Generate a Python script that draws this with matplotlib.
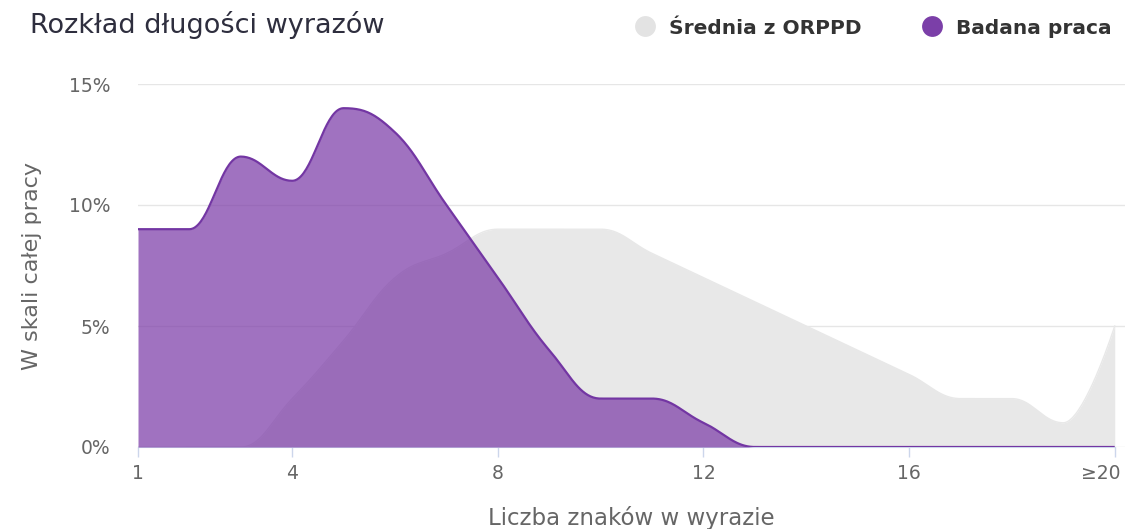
import numpy as np
import matplotlib
matplotlib.use('Agg')
import matplotlib.pyplot as plt
import matplotlib.transforms as mtransforms
from matplotlib.lines import Line2D

# Word length distribution (share of words in %, lengths 1..20, last one is ">=20")
lengths = list(range(1, 21))
orppd_avg = [0, 0, 0, 2, 4.4, 7, 8, 9, 9, 9, 8, 7, 6, 5, 4, 3, 2, 2, 1, 5]
this_work = [9, 9, 12, 11, 14, 13, 10, 7, 4, 2, 2, 1, 0, 0, 0, 0, 0, 0, 0, 0]

tick_pos = [1, 4, 8, 12, 16, 20]
tick_labels = ['1', '4', '8', '12', '16', '≥20']
y_ticks = [0, 5, 10, 15]
y_labels = ['0%', '5%', '10%', '15%']

series_names = ['Średnia z ORPPD', 'Badana praca']


def spline(xs, ys, n=40):
    # Highcharts-like areaspline curve (cubic bezier, smoothing 1.5)
    xs = np.asarray(xs, float)
    ys = np.asarray(ys, float)
    k = len(xs)
    lc = [(xs[i], ys[i]) for i in range(k)]
    rc = [(xs[i], ys[i]) for i in range(k)]
    sm = 1.5
    d = sm + 1
    for i in range(1, k - 1):
        px, py = xs[i], ys[i]
        lx, ly = xs[i - 1], ys[i - 1]
        nx, ny = xs[i + 1], ys[i + 1]
        lcx = (sm * px + lx) / d
        lcy = (sm * py + ly) / d
        rcx = (sm * px + nx) / d
        rcy = (sm * py + ny) / d
        corr = (rcy - lcy) * (rcx - px) / (rcx - lcx) + py - rcy
        lcy += corr
        rcy += corr
        if lcy > ly and lcy > py:
            lcy = max(ly, py)
            rcy = 2 * py - lcy
        elif lcy < ly and lcy < py:
            lcy = min(ly, py)
            rcy = 2 * py - lcy
        if rcy > ny and rcy > py:
            rcy = max(ny, py)
            lcy = 2 * py - rcy
        elif rcy < ny and rcy < py:
            rcy = min(ny, py)
            lcy = 2 * py - rcy
        lc[i] = (lcx, lcy)
        rc[i] = (rcx, rcy)
    t = np.linspace(0, 1, n)[:, None]
    out = []
    for i in range(k - 1):
        p0 = np.array([xs[i], ys[i]])
        p1 = np.array(rc[i])
        p2 = np.array(lc[i + 1])
        p3 = np.array([xs[i + 1], ys[i + 1]])
        seg = ((1 - t) ** 3) * p0 + 3 * ((1 - t) ** 2) * t * p1 + 3 * (1 - t) * t ** 2 * p2 + t ** 3 * p3
        out.append(seg if i == 0 else seg[1:])
    out = np.vstack(out)
    return out[:, 0], out[:, 1]


fig = plt.figure(figsize=(11.27, 5.29), dpi=100)
ax = fig.add_axes([138 / 1127, 82 / 529, 987 / 1127, 363 / 529])

grey = '#e8e8e8'
purple_line = '#7336a3'
purple_fill = (124 / 255, 60 / 255, 168 / 255, 0.72)

gx, gy = spline(lengths, orppd_avg)
ax.fill_between(gx, 0, gy, color=grey, lw=0, zorder=2)
ax.plot(gx, gy, color=grey, lw=1, zorder=2)

px, py = spline(lengths, this_work)
ax.fill_between(px, 0, py, color=purple_fill, lw=0, zorder=3)
ax.plot(px, py, color=purple_line, lw=1.6, zorder=4, solid_capstyle='butt')

ax.set_xlim(1, 20.2)
ax.set_ylim(0, 15)

ax.set_yticks(y_ticks)
ax.set_yticklabels(y_labels)
ax.set_xticks(tick_pos)
ax.set_xticklabels(tick_labels)

ax.grid(axis='y', color='#e6e6e6', lw=1)
ax.set_axisbelow(True)
for s in ['top', 'right', 'left']:
    ax.spines[s].set_visible(False)
ax.spines['bottom'].set_color('#ccd6eb')
ax.spines['bottom'].set_bounds(1, 20)

ax.tick_params(axis='y', length=0, pad=20, labelsize=13.5, labelcolor='#666666')
ax.tick_params(axis='x', length=7, width=1, color='#ccd6eb', pad=5, labelsize=13.5, labelcolor='#666666')

# last label is pulled inside the figure, like in the original
last = ax.get_xticklabels()[-1]
last.set_horizontalalignment('right')
last.set_transform(last.get_transform() + mtransforms.ScaledTranslation(6 / 100, 0, fig.dpi_scale_trans))

ax.set_ylabel('W skali całej pracy', fontsize=16, color='#666666', labelpad=19)
ax.set_xlabel('Liczba znaków w wyrazie', fontsize=16.5, color='#666666', labelpad=17)

fig.text(30 / 1127, 1 - 25 / 529, 'Rozkład długości wyrazów', fontsize=19.5, color='#2e2e3e', va='center', ha='left')

handles = [Line2D([], [], ls='none', marker='o', ms=15, mfc='#e3e3e3', mec='none'),
           Line2D([], [], ls='none', marker='o', ms=15, mfc='#7b3fa8', mec='none')]
leg = fig.legend(handles, series_names, loc='center right', bbox_to_anchor=(1122 / 1127, 1 - 28 / 529),
                 ncol=2, frameon=False, handletextpad=0.6, columnspacing=2.9, handlelength=1.2,
                 borderpad=0, prop={'weight': 'bold', 'size': 14.5})
for t in leg.get_texts():
    t.set_color('#333333')

fig.savefig('out.png', dpi=100)
